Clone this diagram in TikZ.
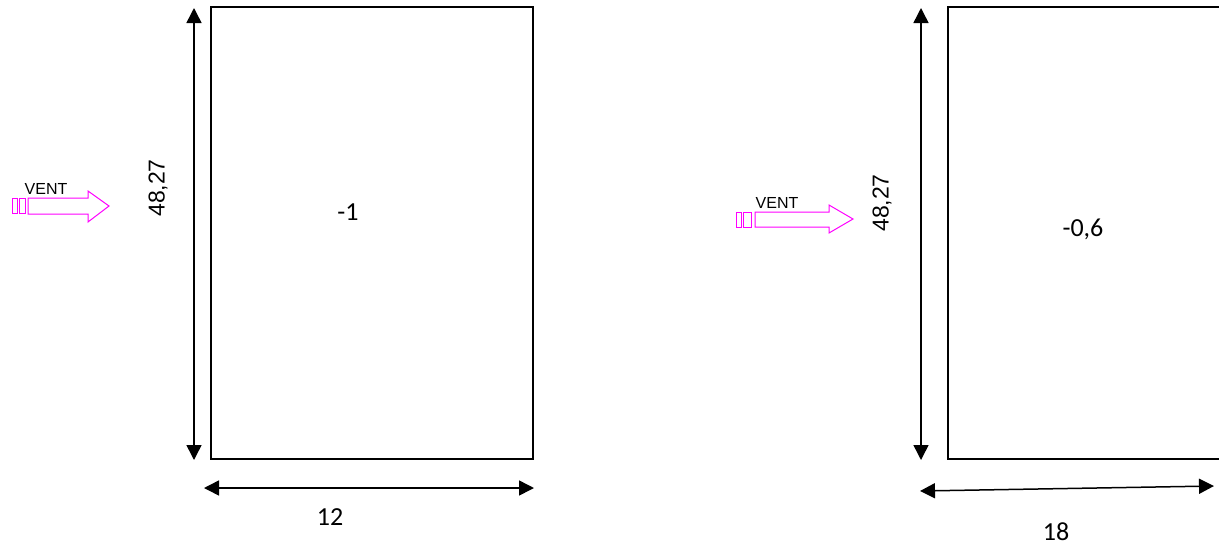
\documentclass[tikz,border=0pt]{standalone}
\usepackage{fontspec}
\setmainfont{Carlito}
\newfontfamily\arialf{Liberation Sans}
\usetikzlibrary{arrows.meta}
\definecolor{vent}{RGB}{255,0,255}
\tikzset{
  wall/.style={draw=black,line width=1.7pt},
  dimline/.style={line width=1.5pt,{Triangle[length=15pt,width=15pt]}-{Triangle[length=15pt,width=15pt]}},
  ventline/.style={draw=vent,line width=1pt,line join=miter},
  dimlab/.style={font=\fontsize{26}{28}\selectfont},
  heightlab/.style={font=\arialf\fontsize{23}{25}\selectfont,rotate=90},
  ventlab/.style={font=\arialf\fontsize{16}{18}\selectfont,inner sep=0pt},
  coef/.style={font=\fontsize{26}{28}\selectfont}
}
\begin{document}
\begin{tikzpicture}[x=1pt,y=-1pt]
\useasboundingbox (0,0) rectangle (1219,547);
\clip (0,0) rectangle (1219,547);
% left panel
\node[wall,minimum width=322pt,minimum height=452pt,inner sep=0pt] (r1) at (372,233) {};
\node[coef] (c1) at (348,212) {-1};
\coordinate (v1t) at (194,8);
\coordinate (v1b) at (194,460);
\draw[dimline] (v1t) -- (v1b);
\coordinate (h1l) at (204,488);
\coordinate (h1r) at (534,488);
\draw[dimline] (h1l) -- (h1r);
\node[dimlab] (l12) at (330,517) {12};
\node[heightlab] (hl1) at (158,188) {48,27};
% left vent arrow
\draw[ventline] (12,198) rectangle (17,213);
\draw[ventline] (19,198) rectangle (25,213);
\draw[ventline] (28,198) -- (88,198) -- (88,191) -- (109,206) -- (88,222) -- (88,214) -- (28,214) -- cycle;
\node[ventlab] (vt1) at (46,189) {VENT};
% right panel
\draw[wall] (1225,7) -- (948,7) -- (948,459) -- (1225,459);
\node[coef] (c2) at (1083,229) {-0,6};
\coordinate (v2t) at (921,8);
\coordinate (v2b) at (921,460);
\draw[dimline] (v2t) -- (v2b);
\coordinate (h2l) at (920,491);
\coordinate (h2r) at (1214,486);
\draw[dimline] (h2l) -- (h2r);
\node[dimlab] (l18) at (1056,532) {18};
\node[heightlab] (hl2) at (882,203) {48,27};
% right vent arrow
\draw[ventline] (736,212) rectangle (741,227);
\draw[ventline] (743,212) rectangle (751,227);
\draw[ventline] (755,212) -- (829,212) -- (829,205) -- (853,219) -- (829,233) -- (829,227) -- (755,227) -- cycle;
\node[ventlab] (vt2) at (777,203) {VENT};
\end{tikzpicture}
\end{document}
